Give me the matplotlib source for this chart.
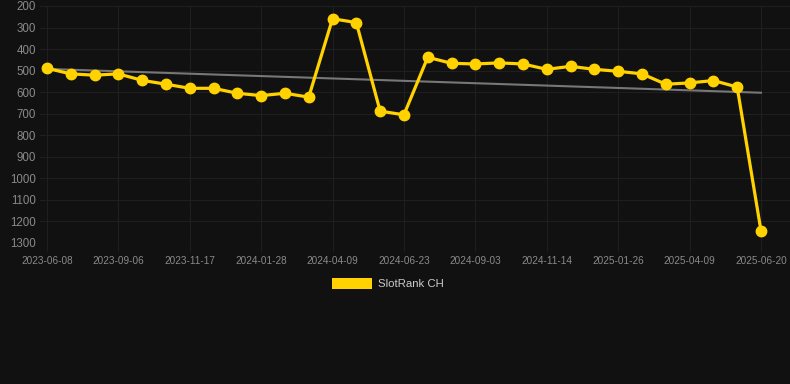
import numpy as np
import matplotlib
matplotlib.use("Agg")
import matplotlib.pyplot as plt
from matplotlib.patches import Rectangle

plt.rcParams['font.family'] = ['Liberation Sans', 'DejaVu Sans']

dates = ["2023-06-08", "2023-07-08", "2023-08-07", "2023-09-06", "2023-09-30", "2023-10-24",
         "2023-11-17", "2023-12-11", "2024-01-04", "2024-01-28", "2024-02-21", "2024-03-16",
         "2024-04-09", "2024-05-04", "2024-05-29", "2024-06-23", "2024-07-17", "2024-08-10",
         "2024-09-03", "2024-09-27", "2024-10-21", "2024-11-14", "2024-12-08", "2025-01-01",
         "2025-01-26", "2025-02-19", "2025-03-16", "2025-04-09", "2025-05-03", "2025-05-27",
         "2025-06-20"]
ranks = [489, 515, 521, 515, 545, 563, 582, 582, 605, 616, 605, 623, 259, 277, 688, 705,
         438, 466, 469, 464, 469, 494, 480, 494, 503, 515, 563, 557, 546, 576, 1243]
yticks = [200, 300, 400, 500, 600, 700, 800, 900, 1000, 1100, 1200, 1300]
series_label = "SlotRank CH"

W, H = 790, 384
fig = plt.figure(figsize=(W / 100, H / 100), dpi=100)
fig.patch.set_facecolor("#111111")
ax = fig.add_axes([40 / W, (H - 243) / H, 750 / W, 237 / H])
ax.set_facecolor("#111111")

x = np.arange(len(ranks))
coef = np.polyfit(x, ranks, 1)
ax.plot(x, np.polyval(coef, x), color="#777777", lw=1.5, zorder=2)
ax.plot(x, ranks, color="#FFD200", lw=2.3, marker="o", markersize=7.5,
        markerfacecolor="#FFD200", markeredgecolor="#FFD200", zorder=3)

ax.set_xlim(-0.29, len(ranks) - 1 + 1.22)
ax.set_ylim(1300, 200)
ax.set_yticks(yticks)
ax.set_yticklabels([str(v) for v in yticks])
ax.set_xticks(x[::3])
ax.set_xticklabels(dates[::3])

ax.grid(True, color="#1f1f1f", lw=0.8)
ax.set_axisbelow(True)
for s in ax.spines.values():
    s.set_visible(False)
ax.tick_params(axis="y", length=0, pad=3, labelsize=8.3, labelcolor="#8a8a8a")
ax.tick_params(axis="x", length=6, width=0.8, color="#1f1f1f", pad=3,
               labelsize=7.2, labelcolor="#8a8a8a")

# legend
fig.patches.append(Rectangle((332 / W, (H - 289) / H), 40 / W, 11 / H,
                             transform=fig.transFigure, facecolor="#FFD200",
                             edgecolor="none"))
fig.text(378 / W, (H - 284) / H, series_label, color="#cccccc", fontsize=8.2,
         va="center", ha="left")

fig.savefig("out.png", dpi=100, facecolor=fig.get_facecolor())
